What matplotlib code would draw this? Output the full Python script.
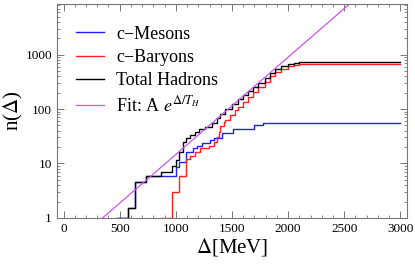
import numpy as np
import matplotlib
matplotlib.use('Agg')
import matplotlib.pyplot as plt
from matplotlib.ticker import FixedLocator, NullFormatter, LogLocator

plt.rcParams['font.family'] = ['Liberation Serif', 'DejaVu Serif']
plt.rcParams['mathtext.fontset'] = 'stix'

# ---- data (cumulative number of states) ----
mes_d = [480, 578, 637, 732, 1000, 1030, 1086, 1150, 1189, 1230, 1300, 1340,
         1410, 1513, 1699, 1779, 3000]
mes_n = [1, 1.5, 4.5, 6, 8.7, 10.5, 16, 19, 21, 23.5, 27, 29,
         37, 42.5, 51, 55, 55]

bar_d = [864, 967, 1030, 1086, 1130, 1175, 1219, 1292, 1340, 1366, 1381, 1395,
         1425, 1440, 1484, 1528, 1558, 1600, 1646, 1690, 1735, 1790, 1840,
         1882, 1940, 2000, 2050, 2100, 3000]
bar_n = [1, 3, 6, 12, 14, 16.5, 19, 21, 25, 30, 38, 48,
         58, 64, 78, 94, 107, 135, 165, 205, 255, 320, 400,
         470, 555, 610, 645, 660, 660]

tot_d = [480, 578, 637, 732, 864, 967, 1000, 1030, 1060, 1086, 1130, 1175,
         1204, 1263, 1322, 1366, 1395, 1440, 1499, 1558, 1600, 1646, 1690,
         1735, 1790, 1840, 1882, 1940, 2000, 2050, 2100, 3000]
tot_n = [1, 1.5, 4.5, 6, 7, 9, 11.7, 16.5, 25, 29, 33, 38,
         43, 47, 56, 68, 82, 100, 125, 150, 180, 210, 255,
         305, 375, 460, 540, 615, 670, 700, 720, 720]

# fit parameters  n = A exp(Delta / T_H)
T_H = 243.0
A = 0.239

xticks = [0, 500, 1000, 1500, 2000, 2500, 3000]
yticks = [1, 10, 100, 1000]

# ---- plot ----
fig = plt.figure(figsize=(4.15, 2.68), dpi=100)
ax = fig.add_axes([0.137, 0.187, 0.844, 0.798])

ax.step(mes_d, mes_n, where='post', color='#2020ff', lw=1.0, label='c\u2212Mesons')
ax.step(bar_d, bar_n, where='post', color='#ff2020', lw=1.0, label='c\u2212Baryons')
ax.step(tot_d, tot_n, where='post', color='black', lw=1.0, label='Total Hadrons')
xf = np.linspace(0, 3000, 60)
ax.plot(xf, A * np.exp(xf / T_H), color='#cc55ee', lw=0.9,
        label=r'Fit: A $e^{\Delta/T_H}$')

ax.set_yscale('log')
ax.set_xlim(-60, 3060)
ax.set_ylim(1, 8500)

ax.xaxis.set_major_locator(FixedLocator(xticks))
ax.xaxis.set_minor_locator(FixedLocator(np.arange(-0, 3100, 100)))
ax.yaxis.set_major_locator(FixedLocator(yticks))
ax.yaxis.set_minor_locator(LogLocator(base=10, subs=np.arange(2, 10)))
ax.yaxis.set_minor_formatter(NullFormatter())
ax.set_yticklabels([str(v) for v in yticks])

frame_col = '#777777'
for s in ax.spines.values():
    s.set_color(frame_col)
    s.set_linewidth(0.8)
ax.tick_params(which='both', direction='in', top=True, right=True,
               colors=frame_col, labelcolor='black', labelsize=9.5)
ax.tick_params(which='major', length=5, width=0.7)
ax.tick_params(which='minor', length=2.5, width=0.6)

ax.set_xlabel(r'$\Delta$[MeV]', fontsize=15, labelpad=1)
ax.set_ylabel(r'n($\Delta$)', fontsize=15)
ax.yaxis.set_label_coords(-0.092, 0.5)

ax.legend(loc='upper left', bbox_to_anchor=(0.025, 0.95), frameon=False,
          fontsize=13, handlelength=1.5, handletextpad=0.7,
          labelspacing=0.35, borderaxespad=0.2)

plt.savefig('out.png', dpi=100)
